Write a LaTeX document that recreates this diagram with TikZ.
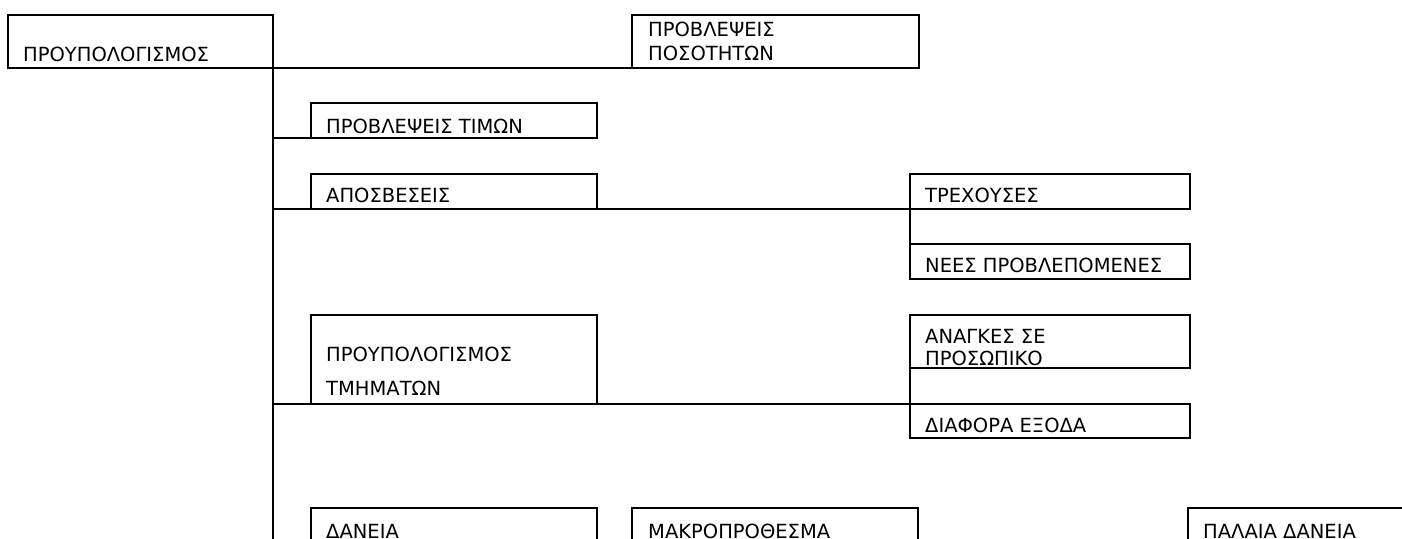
\documentclass[tikz,border=0pt]{standalone}
\usepackage{fontspec}
\setmainfont{DejaVu Sans}
\begin{document}
\begin{tikzpicture}[x=1pt,y=-1pt,
  boxstyle/.style={draw=black,line width=2pt,rectangle,inner sep=0pt,outer sep=0pt},
  lbl/.style={anchor=base west,inner sep=0pt,font=\fontsize{19.5}{23}\selectfont},
  conn/.style={draw=black,line width=2pt}]
\useasboundingbox (0,0) rectangle (1402,538);
\clip (0,0) rectangle (1402,538);
\fill[white] (0,0) rectangle (1402,538);
% boxes: defined by corners
\newcommand{\mybox}[5]{\node[boxstyle,minimum width=#4-#2,minimum height=#5-#3,anchor=north west] (#1) at (#2,#3) {};}
\mybox{A}{8}{15}{273}{68}
\mybox{B}{632}{15}{919}{68}
\mybox{C}{311}{103}{597}{138}
\mybox{D}{311}{174}{597}{209}
\mybox{E}{910}{174}{1190}{209}
\mybox{F}{910}{244}{1190}{279}
\mybox{G}{311}{315}{597}{404}
\mybox{H}{910}{315}{1190}{368}
\mybox{I}{910}{404}{1190}{438}
\mybox{J}{311}{508}{597}{600}
\mybox{K}{632}{508}{918}{600}
\mybox{L}{1188}{508}{1480}{600}
% texts
\node[lbl] (tA) at (23,61) {ΠΡΟΥΠΟΛΟΓΙΣΜΟΣ};
\node[lbl] (tB1) at (648,36) {ΠΡΟΒΛΕΨΕΙΣ};
\node[lbl] (tB2) at (648,60) {ΠΟΣΟΤΗΤΩΝ};
\node[lbl] (tC) at (326,133) {ΠΡΟΒΛΕΨΕΙΣ ΤΙΜΩΝ};
\node[lbl] (tD) at (326,202) {ΑΠΟΣΒΕΣΕΙΣ};
\node[lbl] (tE) at (925,202) {ΤΡΕΧΟΥΣΕΣ};
\node[lbl] (tF) at (925,272) {ΝΕΕΣ ΠΡΟΒΛΕΠΟΜΕΝΕΣ};
\node[lbl] (tG1) at (326,361) {ΠΡΟΥΠΟΛΟΓΙΣΜΟΣ};
\node[lbl] (tG2) at (326,395) {ΤΜΗΜΑΤΩΝ};
\node[lbl] (tH1) at (925,343) {ΑΝΑΓΚΕΣ ΣΕ};
\node[lbl] (tH2) at (925,365) {ΠΡΟΣΩΠΙΚΟ};
\node[lbl] (tI) at (925,432) {ΔΙΑΦΟΡΑ ΕΞΟΔΑ};
\node[lbl] (tJ) at (326,538) {ΔΑΝΕΙΑ};
\node[lbl] (tK) at (648,538) {ΜΑΚΡΟΠΡΟΘΕΣΜΑ};
\node[lbl] (tL) at (1203,538) {ΠΑΛΑΙΑ ΔΑΝΕΙΑ};
% connectors
\coordinate (trunkend) at (273,560);
\draw[conn] (A.south east) -- (B.south west);
\draw[conn] (A.south east) -- (trunkend);
\draw[conn] (C.south west -| A.south east) -- (C.south west);
\draw[conn] (D.south west -| A.south east) -- (E.south west);
\draw[conn] (E.south west) -- (F.north west);
\draw[conn] (G.south west -| A.south east) -- (I.north west);
\draw[conn] (H.south west) -- (I.north west);
\end{tikzpicture}
\end{document}
